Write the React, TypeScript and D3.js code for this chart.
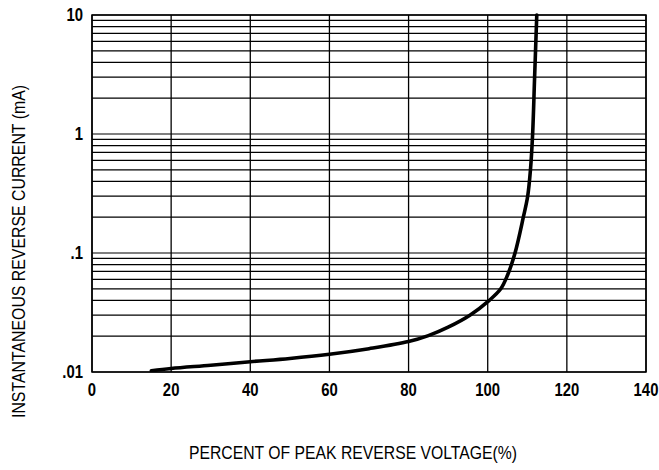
import React from "react";
import * as d3 from "d3";

const xTicks = [0, 20, 40, 60, 80, 100, 120, 140];
const yTickValues = [0.01, 0.1, 1, 10];
const yTickLabels = [".01", ".1", "1", "10"];
const curveX = [15, 20, 30, 40, 50, 60, 70, 80, 85, 90, 95.5, 100.4, 103.3, 105, 106.9, 109, 110.1, 110.8, 111.35, 111.85, 112.4];
const curveY = [0.01025, 0.0107, 0.0114, 0.0122, 0.013, 0.0141, 0.0157, 0.018, 0.0202, 0.0238, 0.03, 0.04, 0.05, 0.065, 0.1, 0.2, 0.3, 0.5, 1, 3, 10];
const xTitle = "PERCENT OF PEAK REVERSE VOLTAGE(%)";
const yTitle = "INSTANTANEOUS REVERSE CURRENT (mA)";

const W = 659, H = 470;
const L = 92, R = 646, T = 15, B = 372;

export default function App() {
  const x = d3.scaleLinear().domain([0, 140]).range([L, R]);
  const y = d3.scaleLog().domain([0.01, 10]).range([B, T]);
  const minor: number[] = [];
  [0.01, 0.1, 1].forEach((d) => {
    for (let k = 1; k <= 9; k++) minor.push(d * k);
  });
  minor.push(10);
  const pts = curveX.map((v, i) => [v, curveY[i]] as [number, number]);
  const line = d3
    .line<[number, number]>()
    .x((d) => x(d[0]))
    .y((d) => y(d[1]))
    .curve(d3.curveCatmullRom.alpha(0.5));
  const font = "'Liberation Sans', Arial, sans-serif";
  return (
    <svg width={W} height={H} style={{ position: "absolute", left: 0, top: 0, background: "#fff" }}>
      <defs>
        <clipPath id="pc">
          <rect x={L} y={T - 2} width={R - L} height={B - T + 2} />
        </clipPath>
      </defs>
      {minor.map((v, i) => (
        <line key={"h" + i} x1={L} x2={R} y1={y(v)} y2={y(v)} stroke="#000" strokeWidth={1.2} />
      ))}
      {xTicks.map((v) => (
        <line key={"v" + v} x1={x(v)} x2={x(v)} y1={T} y2={B} stroke="#000" strokeWidth={1.3} />
      ))}
      <rect x={L} y={T} width={R - L} height={B - T} fill="none" stroke="#000" strokeWidth={1.5} />
      <path d={line(pts) || ""} fill="none" stroke="#000" strokeWidth={3.6} clipPath="url(#pc)" strokeLinecap="round" />
      {xTicks.map((v) => (
        <g key={"xl" + v} transform={`translate(${x(v)},396) scale(0.85,1)`}>
          <text textAnchor="middle" fontFamily={font} fontWeight="bold" fontSize={17.5} fill="#000">
            {v}
          </text>
        </g>
      ))}
      {yTickValues.map((v, i) => (
        <g key={"yl" + v} transform={`translate(83,${y(v) + 6}) scale(0.85,1)`}>
          <text textAnchor="end" fontFamily={font} fontWeight="bold" fontSize={17.5} fill="#000">
            {yTickLabels[i]}
          </text>
        </g>
      ))}
      <text
        x={353}
        y={459}
        textAnchor="middle"
        fontFamily={font}
        fontSize={19}
        textLength={328}
        lengthAdjust="spacingAndGlyphs"
        fill="#000"
      >
        {xTitle}
      </text>
      <text
        transform="translate(25,251.5) rotate(-90)"
        textAnchor="middle"
        fontFamily={font}
        fontSize={18}
        textLength={333}
        lengthAdjust="spacingAndGlyphs"
        fill="#000"
      >
        {yTitle}
      </text>
    </svg>
  );
}
